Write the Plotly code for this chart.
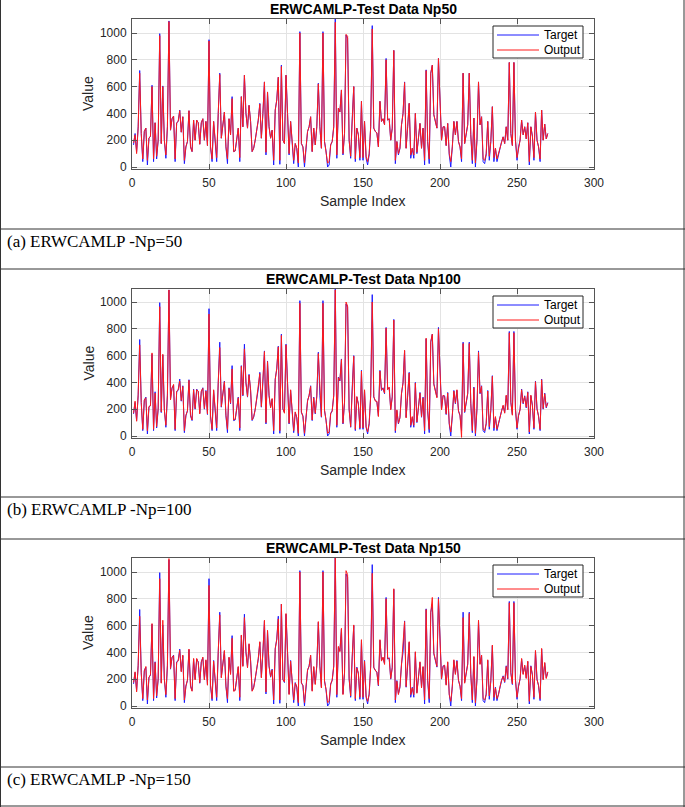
import plotly.graph_objects as go

W, H = 685, 807

sample_index = list(range(1, 271))

target = [
165, 250, 115, 300, 720, 250, 40, 265, 290, 15,
215, 230, 610, 40, 330, 60, 200, 995, 175, 605,
200, 65, 300, 1090, 275, 360, 380, 40, 330, 340,
425, 260, 375, 25, 150, 190, 420, 150, 115, 350,
200, 350, 330, 170, 330, 360, 200, 340, 160, 950,
150, 40, 340, 200, 40, 400, 700, 215, 300, 410,
150, 25, 360, 240, 525, 115, 120, 200, 290, 40,
525, 300, 685, 400, 290, 460, 340, 115, 140, 200,
275, 350, 475, 215, 400, 635, 90, 560, 300, 215,
275, 15, 425, 500, 670, 20, 760, 200, 175, 685,
400, 90, 340, 150, 25, 175, 140, 0, 1010, 175,
150, 0, 150, 265, 300, 375, 115, 290, 165, 300,
625, 300, 140, 1010, 190, 120, 0, 15, 165, 190,
300, 1120, 65, 440, 410, 575, 90, 250, 985, 960,
200, 65, 365, 600, 40, 290, 240, 50, 490, 50,
340, 65, 15, 90, 300, 1055, 290, 265, 255, 150,
490, 340, 360, 315, 810, 350, 360, 200, 290, 870,
25, 190, 90, 140, 315, 400, 635, 140, 300, 475,
65, 140, 65, 400, 100, 200, 325, 140, 290, 15,
725, 190, 25, 700, 760, 390, 340, 290, 810, 450,
200, 300, 300, 160, 325, 90, 0, 150, 340, 240,
340, 190, 150, 40, 700, 175, 250, 315, 700, 240,
25, 365, 0, 200, 635, 315, 375, 40, 25, 90,
340, 50, 190, 450, 40, 140, 40, 90, 150, 190,
225, 175, 300, 200, 780, 250, 160, 780, 200, 50,
150, 200, 350, 240, 300, 210, 330, 15, 300, 230,
50, 410, 200, 150, 40, 425, 200, 320, 210, 250,
]

output_np50 = [
180, 240, 100, 290, 700, 250, 60, 265, 290, 50,
215, 230, 600, 60, 330, 80, 200, 980, 175, 600,
200, 90, 300, 1085, 275, 360, 380, 60, 330, 340,
420, 260, 375, 50, 150, 190, 420, 150, 115, 350,
200, 350, 330, 170, 330, 360, 200, 340, 160, 940,
150, 60, 340, 200, 70, 400, 690, 215, 300, 410,
150, 60, 360, 240, 510, 115, 120, 200, 290, 70,
525, 300, 685, 400, 290, 460, 340, 115, 140, 200,
275, 350, 470, 215, 400, 635, 110, 560, 300, 215,
275, 50, 425, 500, 670, 50, 750, 200, 175, 685,
400, 100, 340, 150, 50, 175, 140, 30, 1000, 175,
150, 30, 150, 265, 300, 375, 115, 290, 165, 300,
620, 300, 140, 1000, 190, 120, 30, 40, 165, 190,
300, 1080, 90, 440, 410, 575, 100, 250, 990, 975,
200, 80, 365, 600, 60, 290, 240, 70, 490, 70,
340, 80, 40, 100, 300, 1030, 290, 265, 255, 150,
490, 340, 360, 315, 800, 350, 360, 200, 290, 870,
50, 190, 100, 140, 315, 400, 630, 140, 300, 475,
90, 140, 90, 400, 110, 200, 325, 140, 290, 50,
720, 190, 60, 700, 760, 390, 340, 290, 810, 450,
200, 300, 300, 160, 325, 100, 40, 150, 340, 240,
340, 190, 150, 60, 700, 175, 250, 315, 700, 240,
50, 365, 30, 200, 635, 315, 375, 60, 50, 100,
340, 80, 190, 450, 70, 140, 60, 100, 150, 190,
225, 175, 300, 200, 780, 250, 160, 780, 200, 70,
150, 200, 350, 240, 300, 210, 330, 40, 300, 230,
70, 410, 200, 150, 60, 425, 200, 320, 210, 250,
]

output_np100 = [
170, 260, 110, 310, 680, 250, 50, 270, 285, 40,
220, 225, 620, 50, 320, 70, 210, 965, 180, 610,
195, 80, 310, 1090, 270, 355, 385, 50, 335, 345,
410, 265, 370, 40, 155, 185, 415, 155, 120, 345,
205, 345, 335, 165, 335, 355, 205, 335, 165, 910,
145, 50, 345, 195, 60, 395, 660, 220, 295, 405,
155, 50, 355, 245, 500, 120, 125, 195, 285, 60,
520, 305, 650, 395, 295, 455, 345, 120, 145, 195,
280, 345, 465, 220, 395, 630, 100, 555, 305, 210,
280, 40, 420, 505, 665, 40, 750, 205, 170, 680,
395, 95, 345, 145, 40, 180, 135, 20, 990, 180,
145, 20, 155, 260, 305, 370, 120, 285, 170, 295,
615, 305, 145, 990, 195, 115, 20, 30, 170, 185,
305, 1090, 80, 435, 415, 570, 95, 255, 1000, 970,
195, 70, 360, 595, 50, 295, 235, 60, 485, 60,
345, 70, 30, 95, 305, 1000, 295, 260, 260, 145,
485, 345, 355, 320, 805, 345, 365, 195, 295, 865,
40, 195, 95, 135, 320, 395, 640, 135, 305, 470,
80, 145, 80, 395, 105, 205, 320, 145, 285, 40,
730, 185, 50, 705, 760, 385, 345, 285, 800, 455,
195, 305, 295, 165, 320, 95, 30, 155, 335, 245,
345, 185, 155, -10, 690, 180, 245, 320, 690, 245,
40, 360, 20, 205, 625, 320, 370, 50, 40, 95,
335, 70, 195, 445, 60, 145, 50, 95, 155, 185,
230, 170, 305, 195, 770, 255, 155, 770, 205, 60,
155, 195, 345, 245, 295, 215, 325, 30, 305, 225,
60, 405, 205, 145, 50, 420, 205, 315, 215, 245,
]

output_np150 = [
175, 255, 105, 305, 670, 245, 55, 260, 295, 45,
210, 235, 615, 55, 325, 75, 205, 950, 170, 640,
205, 85, 305, 1100, 280, 365, 375, 55, 325, 335,
415, 255, 380, 45, 145, 195, 425, 145, 110, 355,
195, 355, 325, 175, 325, 365, 195, 345, 155, 900,
155, 55, 335, 205, 65, 405, 680, 210, 305, 415,
145, 55, 365, 235, 505, 110, 115, 205, 295, 65,
530, 295, 660, 405, 285, 465, 335, 110, 135, 205,
270, 355, 480, 210, 405, 640, 105, 565, 295, 220,
270, 45, 430, 495, 650, 45, 760, 195, 180, 690,
405, 85, 335, 155, 45, 170, 145, 25, 1000, 170,
155, 25, 145, 270, 295, 380, 110, 295, 160, 305,
630, 295, 135, 1000, 185, 125, 25, 35, 160, 195,
295, 1140, 85, 445, 405, 580, 85, 245, 1010, 980,
205, 75, 370, 605, 55, 285, 245, 65, 495, 65,
335, 75, 35, 85, 295, 990, 285, 270, 250, 155,
495, 335, 365, 310, 800, 355, 355, 205, 285, 875,
45, 185, 85, 145, 310, 405, 630, 145, 295, 480,
85, 135, 85, 405, 95, 195, 330, 135, 295, 45,
720, 195, 55, 695, 810, 395, 335, 295, 800, 445,
205, 295, 305, 155, 330, 85, 35, 145, 345, 235,
335, 195, 145, 55, 660, 170, 255, 310, 690, 235,
45, 370, 25, 195, 640, 310, 380, 55, 45, 85,
345, 75, 185, 455, 65, 135, 55, 85, 145, 195,
220, 180, 295, 205, 770, 245, 165, 770, 195, 65,
145, 205, 355, 235, 305, 205, 335, 35, 295, 235,
65, 415, 195, 155, 55, 430, 195, 325, 205, 255,
]

titles = ["ERWCAMLP-Test Data Np50", "ERWCAMLP-Test Data Np100", "ERWCAMLP-Test Data Np150"]
captions = ["(a) ERWCAMLP -Np=50", "(b) ERWCAMLP -Np=100", "(c) ERWCAMLP -Np=150"]
legend_labels = ["Target", "Output"]
outputs = [output_np50, output_np100, output_np150]
x_ticks = [0, 50, 100, 150, 200, 250, 300]
y_ticks = [0, 200, 400, 600, 800, 1000]

# layout geometry (pixels)
box_left, box_right = 132, 594
box_tops = [19, 289, 558]
box_bots = [169, 438, 708]
row_lines = [229, 269, 497, 539, 767]
caption_lines = [229, 497, 767]
px_per_unit = 0.134
BLUE, RED = "#1a1aff", "#ff1a1a"

def xp(px):
    return px / W

def yp(py):
    return 1 - py / H

FONT = "Liberation Sans, Arial, sans-serif"
SERIF = "Liberation Serif, Times New Roman, serif"

fig = go.Figure()
annotations = []
shapes = []
layout_axes = {}

for k in range(3):
    sfx = "" if k == 0 else str(k + 1)
    xa, ya = "x" + sfx, "y" + sfx
    fig.add_trace(go.Scatter(x=sample_index, y=target, mode="lines", name=legend_labels[0],
                             line=dict(color=BLUE, width=1), xaxis=xa, yaxis=ya,
                             showlegend=False))
    fig.add_trace(go.Scatter(x=sample_index, y=outputs[k], mode="lines", name=legend_labels[1],
                             line=dict(color=RED, width=1), xaxis=xa, yaxis=ya,
                             showlegend=False))
    top, bot = box_tops[k], box_bots[k]
    ymin = -2 / px_per_unit
    ymax = (bot - 2 - top) / px_per_unit
    axcommon = dict(showline=True, linecolor="#555555", linewidth=1, mirror="ticks",
                    ticks="inside", ticklen=5, tickcolor="#555555", automargin=False,
                    showgrid=True, gridcolor="#e3e3e3", gridwidth=1, zeroline=False,
                    tickfont=dict(family=FONT, size=12, color="#262626"))
    layout_axes["xaxis" + sfx] = dict(axcommon, domain=[xp(box_left), xp(box_right)],
                                      range=[0, 300], tickvals=x_ticks, anchor=ya,
                                      ticklabelstandoff=3)
    layout_axes["yaxis" + sfx] = dict(axcommon, domain=[yp(bot), yp(top)],
                                      range=[ymin, ymax], tickvals=y_ticks, anchor=xa,
                                      ticklabelstandoff=2)
    # legend box (drawn)
    lt = top + 7
    shapes.append(dict(type="rect", xref="paper", yref="paper", x0=xp(493), x1=xp(583),
                       y0=yp(lt), y1=yp(lt + 32), fillcolor="white",
                       line=dict(color="#262626", width=1), layer="above"))
    for j, (lab, col) in enumerate(zip(legend_labels, [BLUE, RED])):
        ly = lt + 9 + 15 * j
        shapes.append(dict(type="line", xref="paper", yref="paper", x0=xp(497), x1=xp(539),
                           y0=yp(ly), y1=yp(ly), line=dict(color=col, width=1), layer="above"))
        annotations.append(dict(text=lab, x=xp(542), y=yp(ly), xref="paper", yref="paper",
                                showarrow=False, xanchor="left", yanchor="middle",
                                font=dict(family=FONT, size=12, color="#000000")))
    annotations.append(dict(text="<b>" + titles[k] + "</b>", x=xp(363), y=yp(top - 10),
                            xref="paper", yref="paper", showarrow=False,
                            font=dict(family=FONT, size=14, color="#000000"),
                            xanchor="center", yanchor="middle"))
    annotations.append(dict(text="Value", x=xp(88), y=yp((top + bot) / 2), textangle=-90,
                            xref="paper", yref="paper", showarrow=False,
                            font=dict(family=FONT, size=14, color="#262626"),
                            xanchor="center", yanchor="middle"))
    annotations.append(dict(text="Sample Index", x=xp(363), y=yp(bot + 32),
                            xref="paper", yref="paper", showarrow=False,
                            font=dict(family=FONT, size=14, color="#262626"),
                            xanchor="center", yanchor="middle"))
    annotations.append(dict(text=captions[k], x=xp(5), y=yp(caption_lines[k] + 12),
                            xref="paper", yref="paper", showarrow=False,
                            font=dict(family=SERIF, size=17, color="#000000"),
                            xanchor="left", yanchor="middle"))

# table borders
for ly in row_lines + [806]:
    shapes.append(dict(type="line", xref="paper", yref="paper", x0=0, x1=1,
                       y0=yp(ly), y1=yp(ly), line=dict(color="#333333", width=1)))
for lx in [0.5, 684]:
    shapes.append(dict(type="line", xref="paper", yref="paper", x0=xp(lx), x1=xp(lx),
                       y0=0, y1=1, line=dict(color="#333333", width=1)))

fig.update_layout(width=W, height=H,
                  margin=dict(l=0, r=0, t=0, b=0, pad=0, autoexpand=False),
                  paper_bgcolor="white", plot_bgcolor="white",
                  annotations=annotations, shapes=shapes, showlegend=False,
                  **layout_axes)

page_fix = "document.body.style.margin='0';"

fig.write_html("out.html", config={"displayModeBar": False}, post_script=page_fix)
